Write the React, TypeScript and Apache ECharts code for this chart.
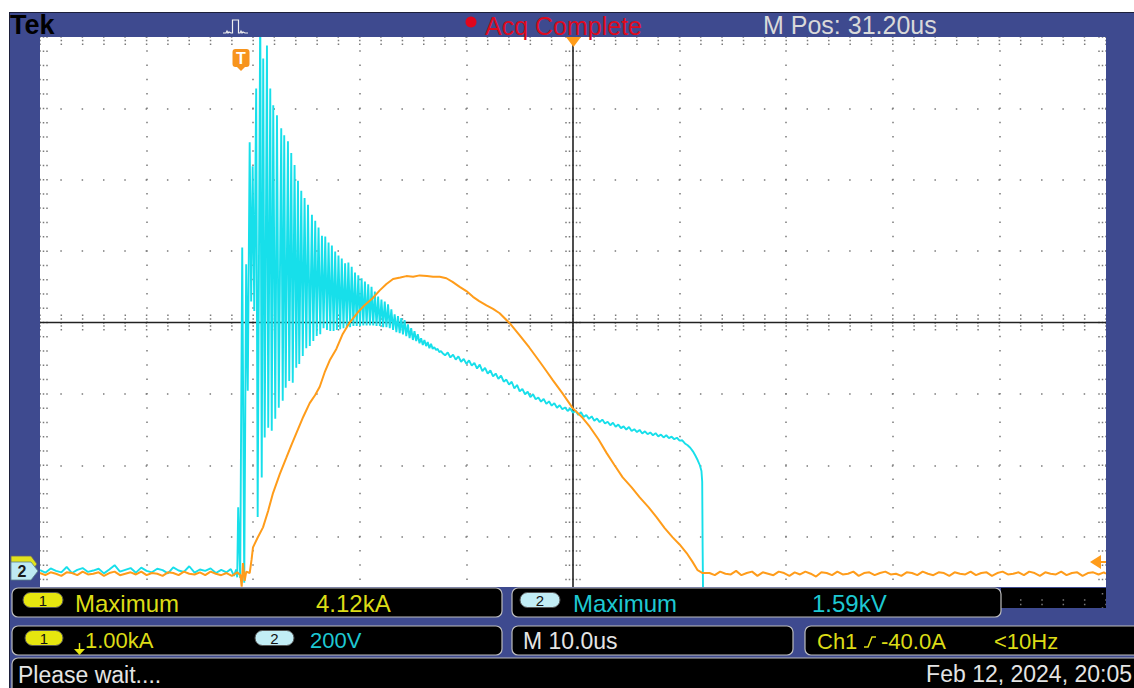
import React, { useEffect, useRef } from 'react';
import * as echarts from 'echarts';

// ---------- time base: 10 us/div, M Pos 31.20 us -> screen spans -18.8 .. 81.2 us from trigger
const T_MIN = -18.8;
const T_MAX = 81.2;
// Ch1 1.00 kA/div, ground marker at ~0.48 div above bottom
const I_MIN = -0.48;
const I_MAX = 7.52;
// Ch2 200 V/div, ground marker at ~0.52 div above bottom
const V_MIN = -104;
const V_MAX = 1496;

// ---------- Ch1 current (kA)
const ch1Pre: [number, number][] = [
  [-18.8, 0.01], [-18.3, -0.02], [-17.8, 0.02], [-17.3, 0.0], [-16.8, -0.03], [-16.3, 0.02], [-15.8, 0.01],
  [-15.3, -0.02], [-14.8, 0.03], [-14.3, -0.01], [-13.8, 0.0], [-13.3, 0.02], [-12.8, -0.03], [-12.3, 0.01],
  [-11.8, 0.03], [-11.3, -0.02], [-10.8, 0.0], [-10.3, 0.02], [-9.8, -0.01], [-9.3, 0.03], [-8.8, -0.02],
  [-8.3, 0.01], [-7.8, 0.0], [-7.3, -0.03], [-6.8, 0.02], [-6.3, 0.01], [-5.8, -0.02], [-5.3, 0.03],
  [-4.8, 0.0], [-4.3, -0.01], [-3.8, 0.02], [-3.3, -0.02], [-2.8, 0.03], [-2.3, 0.0], [-1.8, -0.02],
  [-1.3, 0.01], [-0.8, -0.03], [-0.3, 0.02],
];
const ch1Pulse: [number, number][] = [
  [0.0, -0.02], [0.12, -0.18], [0.24, 0.15], [0.4, -0.1], [0.55, 0.03], [0.87, 0.01], [1.05, 0.2],
  [1.18, 0.37], [1.6, 0.5], [2.12, 0.65], [2.6, 0.88], [3.06, 1.13], [3.7, 1.4], [4.32, 1.63], [4.8, 1.81],
  [5.25, 1.97], [5.9, 2.2], [6.5, 2.39], [7.0, 2.5], [7.44, 2.62], [7.9, 2.82], [8.38, 2.99], [9.0, 3.15],
  [9.6, 3.36], [10.25, 3.52], [11.0, 3.66], [11.7, 3.77], [12.4, 3.86], [13.07, 3.97], [13.7, 4.06],
  [14.32, 4.13], [15.0, 4.15], [15.57, 4.17], [16.2, 4.16], [16.82, 4.18], [17.5, 4.17], [18.07, 4.16],
  [18.7, 4.16], [19.32, 4.14], [19.9, 4.09], [20.57, 4.02], [21.2, 3.96], [21.82, 3.88], [22.4, 3.82],
  [23.08, 3.76], [23.7, 3.71], [24.32, 3.65], [25.26, 3.51], [26.2, 3.34], [27.1, 3.17], [28.08, 2.97],
  [28.7, 2.84], [29.32, 2.71], [30.2, 2.53], [31.17, 2.32], [32.0, 2.2], [32.77, 2.06], [33.6, 1.88],
  [34.36, 1.69], [35.1, 1.52], [35.86, 1.35], [36.7, 1.21], [37.46, 1.07], [38.3, 0.93], [39.05, 0.79],
  [39.8, 0.64], [40.55, 0.51], [41.2, 0.41], [41.86, 0.29], [42.4, 0.17], [42.89, 0.05], [43.36, 0.01],
];
const ch1Post: [number, number][] = [
  [44.0, 0.01], [44.5, -0.02], [45.0, 0.03], [45.5, 0.0], [46.0, -0.01], [46.5, 0.04], [47.0, -0.02],
  [47.5, 0.01], [48.0, 0.03], [48.5, -0.03], [49.0, 0.02], [49.5, 0.0], [50.0, -0.02], [50.5, 0.03],
  [51.0, 0.01], [51.5, -0.03], [52.0, 0.02], [52.5, -0.01], [53.0, 0.03], [53.5, 0.0], [54.0, -0.04],
  [54.5, 0.02], [55.0, 0.01], [55.5, -0.02], [56.0, 0.03], [56.5, -0.01], [57.0, 0.0], [57.5, 0.03],
  [58.0, -0.03], [58.5, 0.01], [59.0, 0.02], [59.5, -0.02], [60.0, 0.01], [60.5, 0.03], [61.0, -0.01],
  [61.5, 0.0], [62.0, -0.03], [62.5, 0.02], [63.0, 0.01], [63.5, -0.02], [64.0, 0.03], [64.5, 0.0],
  [65.0, -0.02], [65.5, 0.02], [66.0, 0.01], [66.5, -0.03], [67.0, 0.02], [67.5, 0.0], [68.0, -0.01],
  [68.5, 0.03], [69.0, -0.02], [69.5, 0.01], [70.0, 0.02], [70.5, -0.03], [71.0, 0.01], [71.5, 0.03],
  [72.0, -0.01], [72.5, 0.0], [73.0, 0.02], [73.5, -0.02], [74.0, 0.03], [74.5, 0.01], [75.0, -0.03],
  [75.5, 0.02], [76.0, 0.0], [76.5, -0.01], [77.0, 0.03], [77.5, -0.02], [78.0, 0.01], [78.5, 0.02],
  [79.0, -0.03], [79.5, 0.01], [80.0, 0.02], [80.5, -0.01], [81.0, 0.02], [81.2, 0.0],
];

// ---------- Ch2 voltage (V)
const ch2Pre: [number, number][] = [
  [-18.8, 2], [-18.3, -5], [-17.8, 7], [-17.3, 0], [-16.8, -4], [-16.3, 11], [-15.8, -6], [-15.3, 3],
  [-14.8, 8], [-14.3, -3], [-13.8, 1], [-13.3, 6], [-12.8, -7], [-12.3, 4], [-11.8, 16], [-11.3, -2],
  [-10.8, 3], [-10.3, 8], [-9.8, -5], [-9.3, 9], [-8.8, 0], [-8.3, -4], [-7.8, 6], [-7.3, 2], [-6.8, -7],
  [-6.3, 10], [-5.8, 1], [-5.3, -3], [-4.8, 13], [-4.3, -5], [-3.8, 4], [-3.3, 0], [-2.8, 7], [-2.3, -6],
  [-1.8, 3], [-1.3, -4], [-0.9, 5], [-0.6, -14], [-0.4, 4], [-0.3, -18],
];
const ch2Ringing: [number, number][] = [
  [-0.21, 178], [-0.02, -20], [0.17, 906], [0.36, -33], [0.54, 859], [0.69, 505], [0.87, 1201], [1.01, 755],
  [1.15, 1134], [1.3, 728], [1.48, 1352], [1.62, 151], [1.86, 1590], [2.0, 262], [2.14, 1436], [2.28, 374],
  [2.49, 1472], [2.61, 401], [2.8, 1352], [2.94, 393], [3.08, 1305], [3.27, 426], [3.43, 1277], [3.6, 457],
  [3.83, 1240], [3.97, 477], [4.11, 1221], [4.25, 513], [4.46, 1204], [4.58, 532], [4.77, 1171], [4.91, 527],
  [5.08, 1137], [5.24, 569], [5.4, 1093], [5.52, 580], [5.71, 1065], [5.85, 602], [6.02, 1045], [6.18, 624],
  [6.34, 1026], [6.51, 630], [6.71, 998], [6.84, 644], [7.02, 981], [7.16, 658], [7.33, 962], [7.49, 663],
  [7.65, 939], [7.8, 680], [7.96, 937], [8.12, 675], [8.27, 920], [8.43, 672], [8.58, 912], [8.74, 672],
  [8.89, 895], [9.05, 675], [9.2, 884], [9.36, 677], [9.51, 875], [9.67, 680], [9.82, 862], [9.98, 683],
  [10.13, 864], [10.29, 683], [10.44, 852], [10.6, 686], [10.75, 836], [10.91, 686], [11.06, 828],
  [11.22, 686], [11.37, 820], [11.53, 688], [11.68, 811], [11.84, 688], [11.99, 803], [12.15, 688],
  [12.3, 796], [12.46, 688], [12.61, 783], [12.77, 686], [12.92, 769], [13.08, 686], [13.23, 760],
  [13.39, 683], [13.54, 755], [13.7, 683], [13.85, 747], [14.01, 680], [14.16, 733], [14.32, 675],
  [14.47, 719], [14.63, 669], [14.78, 714], [14.94, 666], [15.09, 708], [15.25, 663], [15.4, 703],
  [15.56, 658], [15.71, 691], [15.87, 652], [16.02, 680], [16.18, 647], [16.33, 672], [16.49, 644],
  [16.64, 663], [16.8, 638], [16.95, 652], [17.11, 633], [17.26, 647], [17.42, 630], [17.57, 641],
  [17.73, 624], [17.88, 636], [18.04, 622], [18.19, 627], [18.35, 619], [18.5, 622], [18.66, 613],
  [18.81, 616], [18.97, 610],
];
const ch2Decay: [number, number][] = [
  [19.2, 604], [19.45, 612], [19.7, 598], [19.95, 606], [20.2, 592], [20.45, 601], [20.7, 586], [20.95, 594],
  [21.2, 580], [21.45, 590], [21.7, 575], [21.95, 583], [22.2, 567], [22.45, 578], [22.7, 560], [22.95, 569],
  [23.2, 553], [23.45, 562], [23.7, 545], [23.95, 553], [24.2, 538], [24.45, 547], [24.7, 530], [24.95, 536],
  [25.2, 522], [25.45, 530], [25.7, 511], [25.95, 521], [26.2, 503], [26.45, 510], [26.7, 495], [26.95, 502],
  [27.2, 487], [27.45, 495], [27.7, 481], [27.95, 486], [28.2, 474], [28.45, 482], [28.7, 468], [28.95, 475],
  [29.2, 463], [29.45, 470], [29.7, 457], [29.95, 464], [30.2, 453], [30.45, 458], [30.7, 448], [30.95, 455],
  [31.2, 443], [31.45, 449], [31.7, 437], [31.95, 445], [32.2, 431], [32.45, 437], [32.7, 426], [32.95, 433],
  [33.2, 421], [33.45, 427], [33.7, 417], [33.95, 424], [34.2, 413], [34.45, 418], [34.7, 408], [34.95, 415],
  [35.2, 404], [35.45, 410], [35.7, 400], [35.95, 405], [36.2, 396], [36.45, 403], [36.7, 392], [36.95, 397],
  [37.2, 389], [37.45, 395], [37.7, 385], [37.95, 391], [38.2, 383], [38.45, 388], [38.7, 380], [38.95, 386],
  [39.2, 377], [39.45, 382], [39.7, 374], [39.95, 380], [40.2, 372], [40.45, 376], [40.7, 369], [40.95, 373],
  [41.2, 365], [41.45, 366], [41.7, 357], [41.95, 352], [42.2, 345], [42.45, 335], [42.7, 322], [42.9, 310],
  [43.1, 296], [43.25, 280], [43.32, 250], [43.36, 67], [43.4, -60], [43.5, -72],
];
const ch2Post: [number, number][] = [
  [46.0, -68], [52.0, -73], [58.0, -69], [64.0, -72], [70.0, -70], [76.0, -73], [81.2, -71],
];

const ch1Data = [...ch1Pre, ...ch1Pulse, ...ch1Post];
const ch2Data = [...ch2Pre, ...ch2Ringing, ...ch2Decay, ...ch2Post];

// ---------- readouts
const headerTexts = { brand: 'Tek', status: 'Acq Complete', mpos: 'M Pos: 31.20us' };
const measLabels = ['Maximum', 'Maximum'];
const measValues = ['4.12kA', '1.59kV'];
const scaleLabels = ['1.00kA', '200V'];
const timebase = 'M 10.0us';
const trigTexts = ['Ch1', '-40.0A', '<10Hz'];
const statusMsg = 'Please wait....';
const dateText = 'Feb 12, 2024, 20:05';

// ---------- layout / colours
const GL = 40, GT = 37, GW = 1066, GH = 571;
const CXL = GL + GW / 2;
const CYL = GT + GH / 2;
const DX = GW / 50; // minor step horizontally
const DY = GH / 40; // minor step vertically
const BLUE = '#3e4a8f';
const ORANGE = '#ff9c1a';
const CYAN = '#17dfea';
const YEL = '#dcdc16';
const CYT = '#1ec8d2';
const WHT = '#e4e4e4';
const DOT = '#7a7a7a';
const FONT = '"Liberation Sans", Arial, sans-serif';

function hTick(y: number, x1 = GL - 0.75, x2 = GL + GW + 1): any {
  return {
    type: 'line', z: 1, silent: true,
    shape: { x1, y1: y, x2, y2: y },
    style: { stroke: DOT, lineWidth: 1.5, lineDash: [1.5, DX - 1.5] },
  };
}
function vTick(x: number, y1 = GT - 0.75, y2 = GT + GH + 1): any {
  return {
    type: 'line', z: 1, silent: true,
    shape: { x1: x, y1, x2: x, y2 },
    style: { stroke: DOT, lineWidth: 1.5, lineDash: [1.5, DY - 1.5] },
  };
}
function txt(x: number, y: number, text: string, fill: string, size: number, align = 'left', weight = 'normal'): any {
  return {
    type: 'text', z: 110, silent: true, x, y,
    style: { text, fill, font: `${weight} ${size}px ${FONT}`, textAlign: align, textVerticalAlign: 'middle' },
  };
}
function box(x: number, y: number, w: number, h: number): any {
  return {
    type: 'rect', z: 105, silent: true,
    shape: { x, y, width: w, height: h, r: 6 },
    style: { fill: '#000', stroke: '#bdbdbd', lineWidth: 1.2 },
  };
}
function pill(x: number, y: number, w: number, h: number, label: string, fill: string): any[] {
  return [
    { type: 'rect', z: 108, silent: true, shape: { x, y, width: w, height: h, r: h / 2 }, style: { fill, stroke: '#555', lineWidth: 1 } },
    txt(x + w / 2, y + h / 2 + 0.5, label, '#111', 15, 'center'),
  ];
}

function buildGraphic(): any[] {
  const g: any[] = [];
  // graticule extras (under the traces)
  [CYL - 7.2, CYL - 3.6, CYL + 3.6, CYL + 7.2, GT + 3.6, GT + 7.2].forEach((y) => g.push(hTick(y)));
  [CXL - 7, CXL - 3.5, CXL + 3.5, CXL + 7, GL + 3.5, GL + 7, GL + GW - 3.5, GL + GW - 7].forEach((x) => g.push(vTick(x)));
  g.push({ type: 'line', z: 1, silent: true, shape: { x1: CXL, y1: GT, x2: CXL, y2: GT + GH }, style: { stroke: '#222', lineWidth: 1.6 } });
  g.push({ type: 'line', z: 1, silent: true, shape: { x1: GL, y1: CYL, x2: GL + GW, y2: CYL }, style: { stroke: '#222', lineWidth: 1.6 } });

  // blue frame
  g.push({ type: 'rect', z: 100, silent: true, shape: { x: 9, y: 12, width: 1125, height: GT - 12 }, style: { fill: BLUE } });
  g.push({ type: 'rect', z: 100, silent: true, shape: { x: 9, y: GT, width: GL - 9, height: 551 }, style: { fill: BLUE } });
  g.push({ type: 'rect', z: 100, silent: true, shape: { x: GL + GW, y: GT, width: 1134 - GL - GW, height: 551 }, style: { fill: BLUE } });
  g.push({ type: 'rect', z: 100, silent: true, shape: { x: 9, y: 587, width: 1125, height: 101 }, style: { fill: BLUE } });
  g.push({ type: 'line', z: 101, silent: true, shape: { x1: 9.5, y1: 12, x2: 9.5, y2: 688 }, style: { stroke: '#1c1f3a', lineWidth: 1 } });
  g.push({ type: 'line', z: 101, silent: true, shape: { x1: 9, y1: 12.5, x2: 1134, y2: 12.5 }, style: { stroke: '#1c1f3a', lineWidth: 1 } });

  // header
  g.push(txt(10, 24.5, headerTexts.brand, '#000', 27, 'left', 'bold'));
  g.push({
    type: 'polyline', z: 110, silent: true,
    shape: { points: [[223, 33], [226, 33], [227, 31], [228, 33], [229, 32], [231, 33], [232.5, 33], [232.5, 20], [238.5, 20], [238.5, 33], [240, 33], [241, 31], [242, 33], [243, 32], [245, 33], [248, 33]] },
    style: { stroke: '#f0f0f0', lineWidth: 1.2, fill: null },
  });
  g.push({ type: 'circle', z: 110, silent: true, shape: { cx: 471, cy: 22, r: 5.5 }, style: { fill: '#e0061c' } });
  g.push(txt(485, 26, headerTexts.status, '#dd0a1e', 25));
  g.push(txt(763, 25, headerTexts.mpos, '#d9d9d9', 25));

  // horizontal position marker & trigger marker
  g.push({ type: 'polygon', z: 110, silent: true, shape: { points: [[566, 37], [581, 37], [573.5, 47]] }, style: { fill: ORANGE } });
  g.push({ type: 'rect', z: 110, silent: true, shape: { x: 232.5, y: 49, width: 17, height: 18, r: 3 }, style: { fill: '#f7941d' } });
  g.push({ type: 'polygon', z: 110, silent: true, shape: { points: [[236, 66], [246, 66], [241, 71]] }, style: { fill: '#f7941d' } });
  g.push(txt(241, 58.5, 'T', '#fff', 16, 'center', 'bold'));

  // ground markers
  g.push({ type: 'polygon', z: 110, silent: true, shape: { points: [[11, 556], [31, 556], [37, 564], [31, 572], [11, 572]] }, style: { fill: '#e2e21c', stroke: '#666', lineWidth: 0.8 } });
  g.push({ type: 'polygon', z: 111, silent: true, shape: { points: [[11, 562], [31, 562], [38, 571], [31, 580], [11, 580]] }, style: { fill: '#bfeaf3', stroke: '#5a7d88', lineWidth: 0.8 } });
  g.push({ ...txt(22, 571.5, '2', '#1a1a1a', 16, 'center', 'bold'), z: 112 });
  // trigger level marker (right)
  g.push({ type: 'polygon', z: 110, silent: true, shape: { points: [[1090, 562], [1101, 555], [1101, 569]] }, style: { fill: ORANGE } });
  g.push({ type: 'line', z: 110, silent: true, shape: { x1: 1100, y1: 562, x2: GL + GW, y2: 562 }, style: { stroke: ORANGE, lineWidth: 2 } });

  // bottom panels - row 1
  g.push(box(12, 588, 490, 29));
  g.push(box(512, 588, 489, 29));
  g.push({ type: 'rect', z: 104, silent: true, shape: { x: 1001, y: 588, width: GL + GW - 1001, height: GT + GH - 588 }, style: { fill: '#000' } });
  g.push({ ...hTick(600, GL + DX * 46 - 0.75, GL + GW), z: 106 });
  g.push({ ...hTick(604.5, GL + DX * 46 - 0.75, GL + GW), z: 106 });
  g.push({ ...vTick(GL + GW - 3.5, 588 - 0.75 + ((GT + GH - 588) % DY), GT + GH), z: 106 });
  g.push(...pill(23, 592.5, 40, 15, '1', '#e6e60f'));
  g.push(txt(75, 603.5, measLabels[0], YEL, 24));
  g.push(txt(316, 603.5, measValues[0], YEL, 24));
  g.push(...pill(520, 592.5, 40, 15, '2', '#c2edf5'));
  g.push(txt(573, 603.5, measLabels[1], CYT, 24));
  g.push(txt(812, 603.5, measValues[1], CYT, 24));

  // row 2
  g.push(box(12, 626, 490, 29));
  g.push(box(512, 626, 281, 29));
  g.push(box(805, 626, 345, 29));
  g.push(...pill(25, 630.5, 38, 15, '1', '#e6e60f'));
  g.push({ type: 'line', z: 110, silent: true, shape: { x1: 79.5, y1: 643, x2: 79.5, y2: 650 }, style: { stroke: '#e6e60f', lineWidth: 1.5 } });
  g.push({ type: 'polygon', z: 110, silent: true, shape: { points: [[74, 649], [85, 649], [79.5, 655]] }, style: { fill: '#e6e60f' } });
  g.push(txt(85, 640.5, scaleLabels[0], YEL, 22));
  g.push(...pill(255, 630.5, 39, 15, '2', '#c2edf5'));
  g.push(txt(310, 640.5, scaleLabels[1], CYT, 22));
  g.push(txt(523, 640.5, timebase, WHT, 23));
  g.push(txt(817, 641, trigTexts[0], YEL, 22));
  g.push({ type: 'polyline', z: 110, silent: true, shape: { points: [[864, 647], [868, 647], [872, 637], [876, 637]] }, style: { stroke: YEL, lineWidth: 1.5, fill: null } });
  g.push(txt(881, 641, trigTexts[1], YEL, 22));
  g.push(txt(994, 641, trigTexts[2], YEL, 22));

  // row 3
  g.push(box(12, 658, 1140, 36));
  g.push(txt(18, 675, statusMsg, WHT, 23));
  g.push(txt(1132, 674, dateText, WHT, 23, 'right'));
  return g;
}

export default function App() {
  const ref = useRef<HTMLDivElement>(null);
  useEffect(() => {
    if (!ref.current) return;
    const chart = echarts.init(ref.current, null, { renderer: 'svg' });
    const option: any = {
      animation: false,
      backgroundColor: '#ffffff',
      grid: { left: GL, top: GT, width: GW, height: GH, show: false, containLabel: false },
      xAxis: [
        { type: 'value', min: T_MIN, max: T_MAX, show: false },
        {
          type: 'value', min: 0, max: 10, interval: 1, position: 'top',
          axisLine: { show: false }, axisTick: { show: false }, axisLabel: { show: false },
          splitLine: { show: true, lineStyle: { color: DOT, width: 1.5, type: [1.5, DY - 1.5], dashOffset: 0.75 } },
        },
      ],
      yAxis: [
        { type: 'value', min: I_MIN, max: I_MAX, show: false },
        { type: 'value', min: V_MIN, max: V_MAX, show: false },
        {
          type: 'value', min: 0, max: 8, interval: 1,
          axisLine: { show: false }, axisTick: { show: false }, axisLabel: { show: false },
          splitLine: { show: true, lineStyle: { color: DOT, width: 1.5, type: [1.5, DX - 1.5], dashOffset: 0.75 } },
        },
      ],
      series: [
        {
          name: 'Ch2', type: 'line', xAxisIndex: 0, yAxisIndex: 1, data: ch2Data,
          showSymbol: false, symbol: 'none', clip: true, z: 2,
          lineStyle: { color: CYAN, width: 1.9 },
        },
        {
          name: 'Ch1', type: 'line', xAxisIndex: 0, yAxisIndex: 0, data: ch1Data,
          showSymbol: false, symbol: 'none', clip: true, z: 3,
          lineStyle: { color: ORANGE, width: 2 },
        },
      ],
      graphic: { elements: buildGraphic() },
    };
    chart.setOption(option);
    return () => chart.dispose();
  }, []);
  return (
    <div
      ref={ref}
      style={{ position: 'fixed', left: 0, top: 0, width: 1134, height: 688, background: '#fff' }}
    />
  );
}
